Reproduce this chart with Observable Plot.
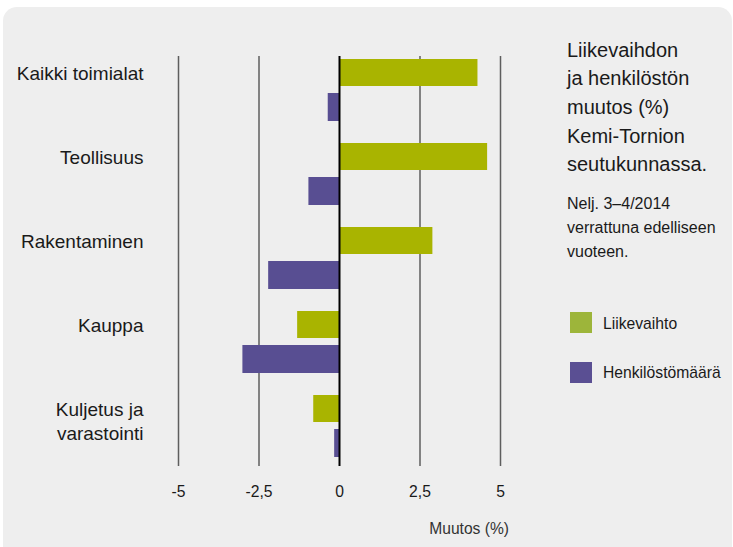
<!DOCTYPE html>
<html>
<head>
<meta charset="utf-8">
<script src="https://cdn.jsdelivr.net/npm/d3@7"></script>
<script src="https://cdn.jsdelivr.net/npm/@observablehq/plot@0.6"></script>
<style>
  html, body { margin: 0; padding: 0; background: #fff; }
  #wrap { position: relative; width: 733px; height: 547px; overflow: hidden; background: #fff; }
  #panel { position: absolute; left: 3px; top: 7px; width: 729px; height: 570px; background: #eeeeee; border-radius: 14px; }
  .t { position: absolute; font-family: "Liberation Sans", Arial, sans-serif; color: #1a1a1a; white-space: nowrap; }
  #title { left: 567px; top: 35.5px; font-size: 20px; line-height: 28.7px; }
  #subtitle { left: 567px; top: 191.5px; font-size: 16px; line-height: 24px; }
  .sw { position: absolute; width: 22px; height: 21px; }
  .lg { font-size: 15.7px; line-height: 20px; }
  #xlabel { right: calc(733px - 509px); top: 519px; font-size: 15.6px; color: #333; line-height: 20px; }
  #chart { position: absolute; left: 0; top: 0; }
</style>
</head>
<body>
<div id="wrap">
  <div id="panel"></div>
  <div id="chart"></div>
  <div id="title" class="t">Liikevaihdon<br>ja henkilöstön<br>muutos (%)<br>Kemi-Tornion<br>seutukunnassa.</div>
  <div id="subtitle" class="t">Nelj. 3–4/2014<br>verrattuna edelliseen<br>vuoteen.</div>
  <div class="sw" style="left:570px;top:312px;background:#9db53a"></div>
  <div class="t lg" style="left:603px;top:314px">Liikevaihto</div>
  <div class="sw" style="left:570px;top:362px;background:#5a4f93"></div>
  <div class="t lg" style="left:603px;top:363px">Henkilöstömäärä</div>
  <div id="xlabel" class="t">Muutos (%)</div>
</div>
<script>
const categories = ["Kaikki toimialat", "Teollisuus", "Rakentaminen", "Kauppa", "Kuljetus ja\nvarastointi"];
const liikevaihto = [4.3, 4.6, 2.9, -1.3, -0.8];
const henkilostomaara = [-0.35, -0.95, -2.2, -3.0, -0.15];
const xTicks = [-5, -2.5, 0, 2.5, 5];
const xTickLabels = ["-5", "-2,5", "0", "2,5", "5"];

const greenColor = "#a9b400";
const purpleColor = "#584e92";

const liikeData = categories.map((c, i) => ({category: c, value: liikevaihto[i]}));
const henkData = categories.map((c, i) => ({category: c, value: henkilostomaara[i]}));

const chart = Plot.plot({
  width: 733,
  height: 547,
  marginLeft: 178,
  marginRight: 233,
  marginTop: 56,
  marginBottom: 81,
  style: {
    background: "transparent",
    fontFamily: "'Liberation Sans', Arial, sans-serif",
    color: "#1a1a1a",
    overflow: "visible"
  },
  x: {domain: [-5, 5]},
  y: {domain: categories, paddingInner: 0.262, paddingOuter: 0.0714, align: 0.25, axis: null},
  marks: [
    Plot.ruleX(xTicks.filter(d => d !== 0), {stroke: "#5e5e5e", strokeWidth: 1.5}),
    Plot.barX(liikeData, {x: "value", y: "category", fill: greenColor, insetBottom: 35}),
    Plot.barX(henkData, {x: "value", y: "category", fill: purpleColor, insetTop: 34}),
    Plot.ruleX([0], {stroke: "#000", strokeWidth: 2}),
    Plot.axisX({
      ticks: xTicks,
      tickFormat: d => xTickLabels[xTicks.indexOf(d)],
      tickSize: 0,
      tickPadding: 19,
      fontSize: 15.7,
      label: null
    }),
    Plot.text(categories, {
      y: d => d,
      frameAnchor: "left",
      textAnchor: "end",
      lineAnchor: "top",
      dx: -35,
      dy: -27,
      fontSize: 19,
      lineHeight: 1.25,
      fill: "#1a1a1a"
    })
  ]
});
document.getElementById("chart").appendChild(chart);
</script>
</body>
</html>
